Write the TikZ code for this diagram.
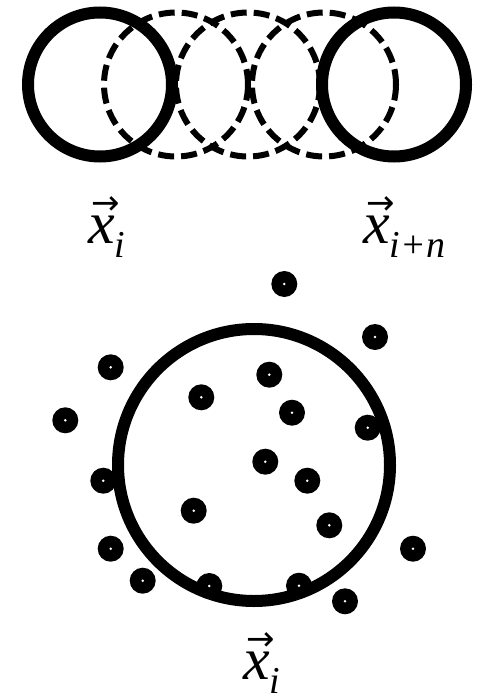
\documentclass[tikz,border=0pt]{standalone}
\usepackage{fontspec}
\newfontfamily\labelfont{Liberation Serif}
\newfontfamily\arrowfont{DejaVu Sans}
\usepackage{tikz}

% vector label: big italic letter, arrow above, lowered index
\newcommand{\bigvec}[2]{{\fontsize{60}{60}\selectfont\labelfont\itshape
    \rlap{\kern3pt\raisebox{29pt}{\upshape\arrowfont\fontsize{34}{34}\selectfont →}}#1%
    \raisebox{-14pt}{\fontsize{38}{38}\selectfont #2}}}

\begin{document}
\begin{tikzpicture}[x=1pt, y=-1pt,
    solidring/.style={line width=12pt},
    dashring/.style={line width=6pt, dash pattern=on 16pt off 7pt},
    veclabel/.style={anchor=base west, inner sep=0pt}]
    \useasboundingbox (0,0) rectangle (479,698);

    % sliding window of neighbourhoods
    \draw[dashring] (176,84.5) circle (72);
    \draw[dashring] (248,84.5) circle (72);
    \draw[dashring] (324,84.5) circle (72);
    \draw[solidring] (100,84.5) circle (72);
    \draw[solidring] (394,84.5) circle (72);

    \node[veclabel] (xi) at (88,243) {\bigvec{x}{i}};
    \node[veclabel] (xin) at (363,243) {\bigvec{x}{i+n}};

    % neighbourhood of a single point
    \draw[solidring] (254,465) circle (136);
    \foreach \px/\py in {110.7/367.3, 65.3/420.3, 201.3/397.3, 284.3/284, 375/337,
        269.3/374.7, 292/412.7, 367.7/427.7, 265.3/461.7, 103.3/480.7, 193.7/510.7,
        110.7/548.7, 142.7/580.7, 209.3/586, 307.3/480.7, 329.3/525.3, 413/548.7,
        299/585.7, 345/601.3}{
        \fill[black] (\px,\py) circle (13);
        \fill[white] (\px,\py) circle (1.4);
    }

    \node[veclabel] (xc) at (243,679) {\bigvec{x}{i}};
\end{tikzpicture}
\end{document}
